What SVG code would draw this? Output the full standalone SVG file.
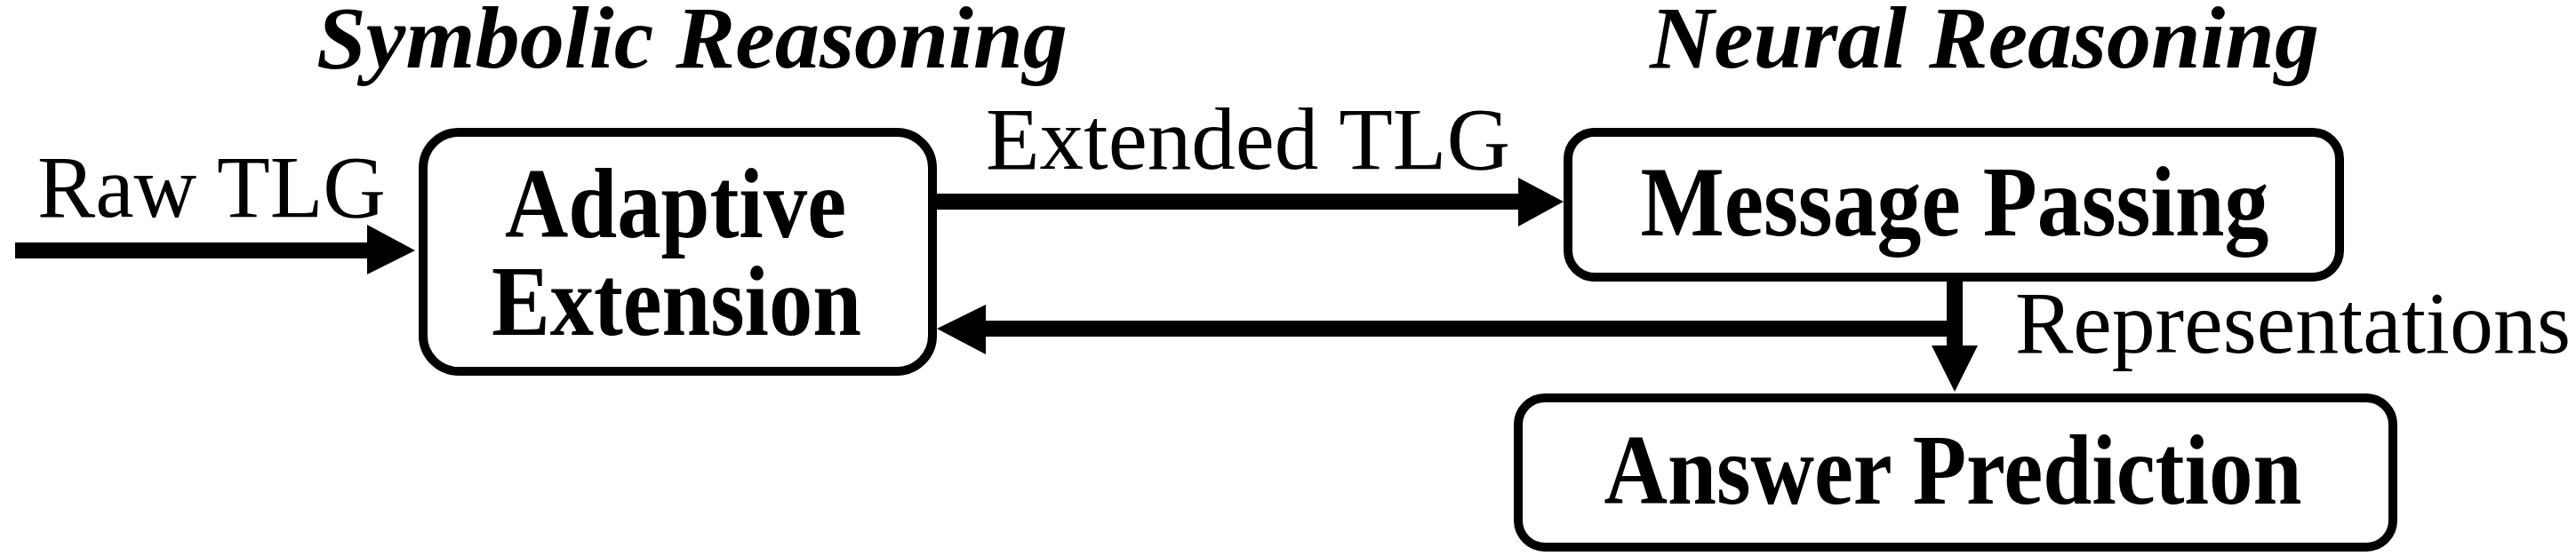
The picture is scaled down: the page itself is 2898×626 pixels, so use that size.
<svg xmlns="http://www.w3.org/2000/svg" width="2898" height="626" viewBox="0 0 2898 626">
<style>
text{font-family:"Liberation Serif","Times New Roman",serif;fill:#000}
.t{font-weight:bold;font-style:italic;font-size:100px}
.l{font-size:100px}
.n{font-weight:bold;font-size:112px;text-anchor:middle}
.box{fill:#fff;stroke:#000;stroke-width:10}
.ln{stroke:#000;stroke-width:18;fill:none}
</style>
<rect width="2898" height="626" fill="#fff"/>
<text class="t" x="356" y="76" textLength="845" lengthAdjust="spacingAndGlyphs">Symbolic Reasoning</text>
<text class="t" x="1856" y="76" textLength="753" lengthAdjust="spacingAndGlyphs">Neural Reasoning</text>
<g id="connectors">
<line class="ln" x1="17" y1="282" x2="420" y2="282"/>
<polygon points="413,253 467,282 413,309"/>
<line class="ln" x1="1054" y1="227" x2="1715" y2="227"/>
<polygon points="1708,200 1759,227 1708,255"/>
<line class="ln" x1="1100" y1="370" x2="2207" y2="370"/>
<polygon points="1109,343 1054,370 1109,399"/>
<line class="ln" x1="2199" y1="317" x2="2199" y2="395"/>
<polygon points="2173,389 2225,389 2199,441"/>
<text class="l" x="42" y="244" textLength="392" lengthAdjust="spacingAndGlyphs">Raw TLG</text>
<text class="l" x="1109" y="190" textLength="590" lengthAdjust="spacingAndGlyphs">Extended TLG</text>
<text class="l" x="2267" y="397" textLength="625" lengthAdjust="spacingAndGlyphs">Representations</text>
</g>
<g id="adaptive">
<rect class="box" x="476" y="149" width="573" height="269" rx="40"/>
<text class="n" x="760" y="267" textLength="384" lengthAdjust="spacingAndGlyphs">Adaptive</text>
<text class="n" x="761" y="377" textLength="416" lengthAdjust="spacingAndGlyphs">Extension</text>
</g>
<g id="message">
<rect class="box" x="1764" y="149" width="868" height="163" rx="30"/>
<text class="n" x="2199" y="265" textLength="707" lengthAdjust="spacingAndGlyphs">Message Passing</text>
</g>
<g id="answer">
<rect class="box" x="1708" y="448" width="984" height="168" rx="30"/>
<text class="n" x="2197" y="567" textLength="785" lengthAdjust="spacingAndGlyphs">Answer Prediction</text>
</g>
</svg>
